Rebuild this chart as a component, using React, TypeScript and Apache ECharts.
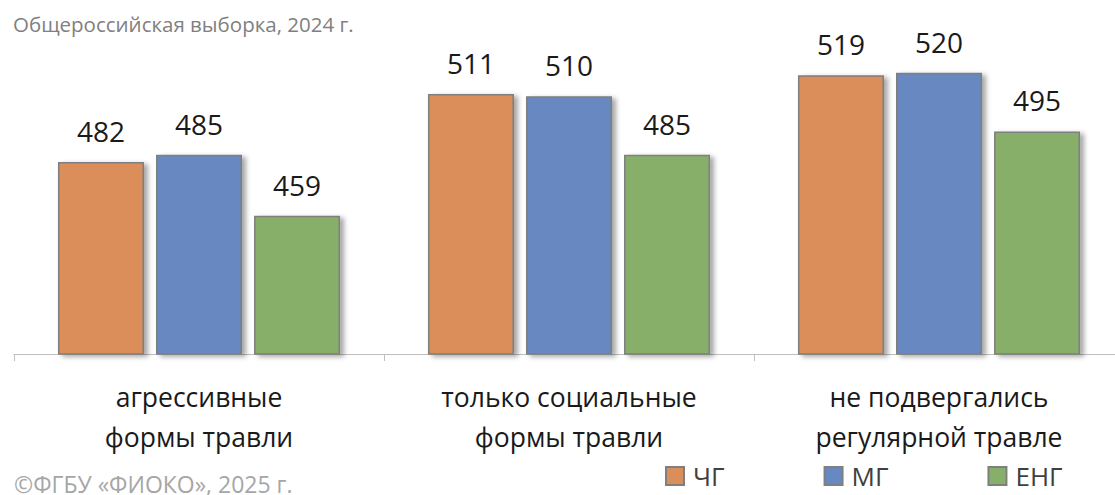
import React, { useEffect, useRef } from "react";
import * as echarts from "echarts";

const categories = ["агрессивные\nформы травли", "только социальные\nформы травли", "не подвергались\nрегулярной травле"];
const seriesNames = ["ЧГ", "МГ", "ЕНГ"];
const valuesCG = [482, 511, 519];
const valuesMG = [485, 510, 520];
const valuesENG = [459, 485, 495];
const colors = ["#DC8E5A", "#6788C1", "#87AF6A"];
const titleText = "Общероссийская выборка, 2024 г.";
const footerText = "©ФГБУ «ФИОКО», 2025 г.";

const FONT = "'Open Sans', 'Noto Sans', sans-serif";

export default function App() {
  const ref = useRef<HTMLDivElement>(null);
  useEffect(() => {
    if (!ref.current) return;
    const chart = echarts.init(ref.current, null, { renderer: "svg" });
    const data = [valuesCG, valuesMG, valuesENG];
    chart.setOption({
      animation: false,
      backgroundColor: "#ffffff",
      textStyle: { fontFamily: FONT },
      title: [
        {
          text: titleText,
          left: 8,
          top: 8,
          textStyle: { fontFamily: FONT, fontSize: 20.5, fontWeight: "normal", color: "#808080" },
        },
        {
          text: footerText,
          left: 9,
          top: 467,
          textStyle: { fontFamily: FONT, fontSize: 23, fontWeight: "normal", color: "#a6a6a6" },
        },
      ],
      legend: {
        data: seriesNames,
        left: 660,
        top: 458,
        itemWidth: 18,
        itemHeight: 18,
        itemGap: 99,
        icon: "rect",
        textStyle: { fontFamily: FONT, fontSize: 26, color: "#404040", padding: [0, 0, 0, 4] },
      },
      grid: { left: 14, right: 0, top: 26, bottom: 141, containLabel: false },
      xAxis: {
        type: "category",
        data: categories,
        axisLine: { show: true, lineStyle: { color: "#bfbfbf", width: 1 } },
        axisTick: { show: true, length: 7, lineStyle: { color: "#bfbfbf" } },
        axisLabel: {
          interval: 0,
          margin: 23,
          fontFamily: FONT,
          fontSize: 26.5,
          lineHeight: 40,
          color: "#1a1a1a",
        },
      },
      yAxis: {
        type: "value",
        min: 400,
        max: 540,
        show: false,
        splitLine: { show: false },
      },
      series: seriesNames.map((name, i) => ({
        name,
        type: "bar",
        data: data[i],
        barWidth: 86,
        barGap: "14%",
        itemStyle: {
          color: colors[i],
          borderColor: "#7f7f7f",
          borderWidth: 1.5,
          shadowColor: "rgba(0,0,0,0.35)",
          shadowBlur: 5,
          shadowOffsetX: 4,
          shadowOffsetY: 2,
        },
        label: {
          show: true,
          position: "top",
          distance: 17,
          fontFamily: FONT,
          fontSize: 28,
          color: "#1a1a1a",
        },
      })),
    });
    return () => chart.dispose();
  }, []);
  return (
    <div style={{ position: "fixed", left: 0, top: 0, width: 1115, height: 495, overflow: "hidden" }}>
      <div ref={ref} style={{ width: 1124, height: 495 }} />
    </div>
  );
}
